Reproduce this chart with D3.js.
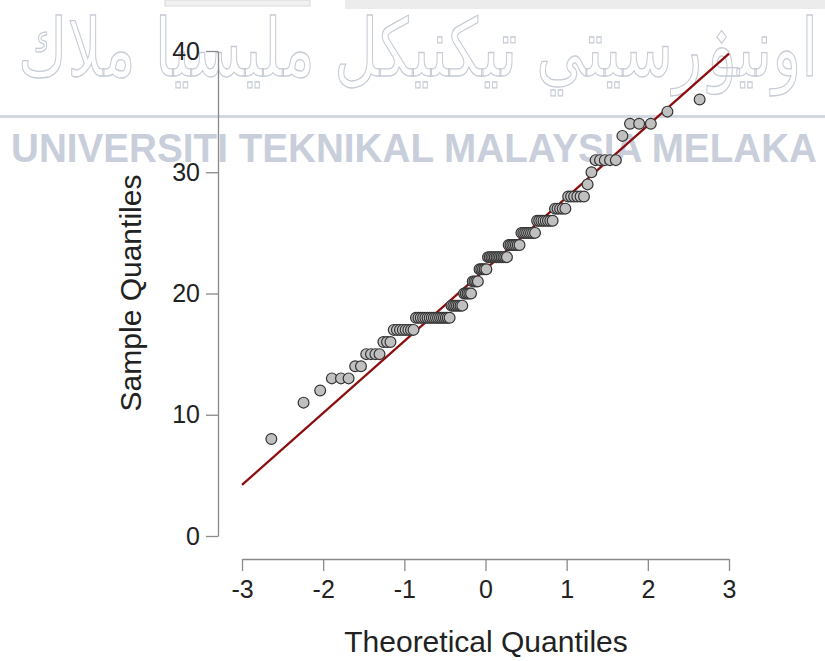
<!DOCTYPE html>
<html>
  <head>
    <title>Q-Q Plot</title>
    <meta charset="utf-8" />
    <style>
      body { margin: 0; background: #fff; }
      svg { display: block; font-family: "Liberation Sans", Arial, sans-serif; }
    </style>
  </head>
  <body>
    <div id="plot"></div>

    <script src="https://d3js.org/d3.v7.min.js"></script>
    <script>
      // sorted sample (one entry per point)
      const sampleValues = [
        8, 11, 12,
        13, 13, 13,
        14, 14,
        15, 15, 15, 15,
        16, 16, 16,
        17, 17, 17, 17, 17, 17, 17, 17,
        18, 18, 18, 18, 18, 18, 18, 18, 18, 18, 18, 18, 18, 18, 18, 18, 18,
        19, 19, 19, 19, 19, 19, 19,
        20, 20, 20, 20, 20,
        21, 21, 21, 21,
        22, 22, 22, 22, 22,
        23, 23, 23, 23, 23, 23, 23, 23, 23, 23, 23, 23,
        24, 24, 24, 24, 24, 24, 24,
        25, 25, 25, 25, 25, 25, 25, 25,
        26, 26, 26, 26, 26, 26, 26, 26,
        27, 27, 27, 27, 27,
        28, 28, 28, 28, 28, 28,
        29, 30,
        31, 31, 31, 31, 31,
        33,
        34, 34, 34,
        35, 36
      ];
      const xTicks = [-3, -2, -1, 0, 1, 2, 3];
      const yTicks = [0, 10, 20, 30, 40];
      const xTitle = "Theoretical Quantiles";
      const yTitle = "Sample Quantiles";
      const markJawi = "اونيۏرسيتي تيكنيكل مليسيا ملاك";
      const markLatin = "UNIVERSITI TEKNIKAL MALAYSIA MELAKA";

      const width = 825, height = 661;

      const svg = d3.select("#plot")
        .append("svg")
        .attr("width", width)
        .attr("height", height);

      // scan bits + university watermark behind the plot
      svg.append("rect").attr("x", 345).attr("y", 0).attr("width", 480).attr("height", 9).attr("fill", "#ececec");
      svg.append("rect").attr("x", 165).attr("y", 0).attr("width", 145).attr("height", 6)
        .attr("fill", "#f1f1f1").attr("stroke", "#d8d8d8");

      svg.append("text")
        .attr("x", 418).attr("y", 76)
        .attr("text-anchor", "middle")
        .attr("direction", "rtl")
        .attr("font-family", "DejaVu Sans, sans-serif")
        .attr("font-size", 80)
        .attr("textLength", 800)
        .attr("lengthAdjust", "spacingAndGlyphs")
        .attr("fill", "#fff")
        .attr("stroke", "#c6cbd5")
        .attr("stroke-width", 1.3)
        .text(markJawi);

      svg.append("rect").attr("x", 0).attr("y", 115).attr("width", width).attr("height", 3).attr("fill", "#d3d7df");

      svg.append("text")
        .attr("x", 414).attr("y", 162)
        .attr("text-anchor", "middle")
        .attr("font-size", 40)
        .attr("font-weight", "bold")
        .attr("textLength", 806)
        .attr("lengthAdjust", "spacingAndGlyphs")
        .attr("fill", "#c9cedb")
        .text(markLatin);

      // inverse normal cdf (Acklam) for the theoretical quantiles
      function qnorm(p) {
        const a = [-39.69683028665376, 220.9460984245205, -275.9285104469687, 138.357751867269, -30.66479806614716, 2.506628277459239];
        const b = [-54.47609879822406, 161.5858368580409, -155.6989798598866, 66.80131188771972, -13.28068155288572];
        const c = [-0.007784894002430293, -0.3223964580411365, -2.400758277161838, -2.549732539343734, 4.374664141464968, 2.938163982698783];
        const d = [0.007784695709041462, 0.3224671290700398, 2.445134137142996, 3.754408661907416];
        const lo = 0.02425;
        let q, r;
        if (p < lo) {
          q = Math.sqrt(-2 * Math.log(p));
          return (((((c[0] * q + c[1]) * q + c[2]) * q + c[3]) * q + c[4]) * q + c[5]) /
            ((((d[0] * q + d[1]) * q + d[2]) * q + d[3]) * q + 1);
        }
        if (p > 1 - lo) return -qnorm(1 - p);
        q = p - 0.5; r = q * q;
        return (((((a[0] * r + a[1]) * r + a[2]) * r + a[3]) * r + a[4]) * r + a[5]) * q /
          (((((b[0] * r + b[1]) * r + b[2]) * r + b[3]) * r + b[4]) * r + 1);
      }

      const n = sampleValues.length;
      const points = sampleValues.map((v, i) => ({ t: qnorm((i + 0.5) / n), v: v }));

      // reference line through the quartiles (like qqline)
      const q1 = d3.quantile(sampleValues, 0.25), q3 = d3.quantile(sampleValues, 0.75);
      const z1 = qnorm(0.25), z3 = qnorm(0.75);
      const slope = (q3 - q1) / (z3 - z1);
      const intercept = q1 - slope * z1;

      const x = d3.scaleLinear().domain([-3, 3]).range([242, 729]);
      const y = d3.scaleLinear().domain([0, 40]).range([536, 51]);

      // axes
      const gx = svg.append("g")
        .attr("transform", "translate(0, 559)")
        .call(d3.axisBottom(x).tickValues(xTicks).tickSize(12).tickSizeOuter(0).tickPadding(9)
          .tickFormat(d => String(d)));
      const gy = svg.append("g")
        .attr("transform", "translate(218, 0)")
        .call(d3.axisLeft(y).tickValues(yTicks).tickSize(12).tickSizeOuter(0).tickPadding(6)
          .tickFormat(d => String(d)));
      [gx, gy].forEach(g => {
        g.select(".domain").attr("stroke", "#8a8a8a").attr("stroke-width", 1.3);
        g.selectAll(".tick line").attr("stroke", "#8a8a8a").attr("stroke-width", 1.3);
        g.selectAll(".tick text")
          .attr("fill", "#222")
          .attr("font-size", 25)
          .attr("font-family", "Liberation Sans, Arial, sans-serif");
      });

      svg.append("text")
        .attr("x", 486).attr("y", 652)
        .attr("text-anchor", "middle")
        .attr("font-size", 30)
        .attr("fill", "#222")
        .text(xTitle);
      svg.append("text")
        .attr("transform", "translate(141, 293) rotate(-90)")
        .attr("text-anchor", "middle")
        .attr("font-size", 30)
        .attr("fill", "#222")
        .text(yTitle);

      // qq line
      svg.append("line")
        .attr("x1", x(-3)).attr("y1", y(intercept - 3 * slope))
        .attr("x2", x(3)).attr("y2", y(intercept + 3 * slope))
        .attr("stroke", "#8b0d0d")
        .attr("stroke-width", 2.3);

      // points
      svg.append("g")
        .selectAll("circle")
        .data(points)
        .join("circle")
        .attr("cx", d => x(d.t))
        .attr("cy", d => y(d.v))
        .attr("r", 5.4)
        .attr("fill", "#c0c0c0")
        .attr("stroke", "#333")
        .attr("stroke-width", 1.2);
    </script>
  </body>
</html>
